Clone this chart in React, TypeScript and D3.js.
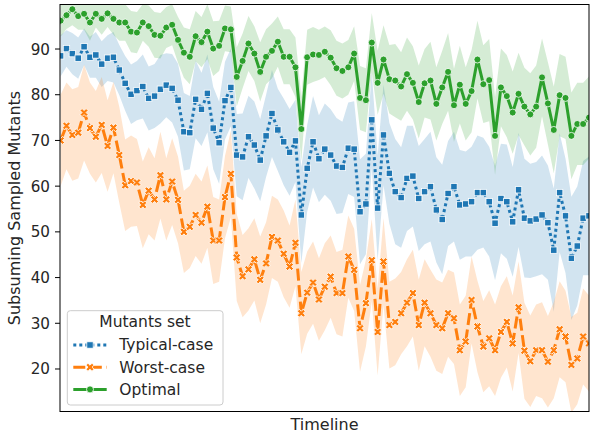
import * as d3 from 'd3';

const W = 590;
const H = 437;

// one x step per sample along the timeline
const steps = d3.range(91);

const typicalMean = [
  88.5, 90.1, 89.0, 88.0, 90.5, 88.2, 88.7, 86.7, 88.0, 88.2,
  85.4, 82.5, 80.1, 80.9, 81.8, 79.2, 79.7, 81.2, 82.1, 81.4,
  78.8, 71.9, 71.7, 79.0, 76.8, 80.3, 72.7, 69.5, 78.7, 81.6,
  66.8, 66.4, 70.8, 69.0, 65.7, 71.0, 75.9, 72.3, 69.7, 67.4,
  69.9, 53.7, 63.9, 69.7, 66.0, 68.1, 66.8, 64.4, 64.1, 68.3,
  68.1, 54.4, 56.1, 74.5, 55.2, 71.2, 62.8, 58.8, 57.5, 61.7,
  62.2, 57.3, 58.8, 59.9, 54.8, 52.7, 58.4, 59.9, 55.9, 56.1,
  56.6, 58.6, 58.6, 56.6, 51.9, 57.3, 56.6, 52.2, 59.2, 53.0,
  52.4, 52.8, 53.7, 52.0, 46.0, 58.6, 53.5, 44.2, 46.9, 53.0,
  53.5,
];
const typicalSpread = [
  4.5, 4, 4.5, 4.5, 4, 4.5, 5, 5, 5, 5.5, 5.5,
  6, 6.5, 6.5, 7, 7, 7, 7.5, 7, 7.5, 8,
  8.5, 8, 8.5, 8, 8.5, 9, 9, 8.5, 8.5,
  9, 9.5, 9, 9.5, 9, 9, 9.5, 9, 9.5, 9.5, 9, 10.5,
  9.5, 10, 9.5, 10, 10, 10.5, 10, 10, 10.5, 11.5, 11, 10.5, 11.5,
  11, 11, 11.5, 11, 11.5, 11, 11.5, 11.5, 12, 11.5, 12, 11.5, 12, 12, 11.5, 12, 12.5, 12,
  12, 12.5, 12, 12.5, 12, 12.5, 13, 12.5, 12.5, 13, 12.5, 13.5, 13, 12.5, 13.5, 13, 12.5, 13,
];

const worstMean = [
  70.0, 73.2, 71.2, 71.7, 76.1, 72.7, 70.8, 73.4, 68.8, 72.8,
  66.8, 60.2, 61.1, 60.8, 55.9, 59.0, 57.1, 62.4, 57.1, 61.0,
  57.0, 50.0, 51.1, 53.7, 52.0, 55.5, 48.1, 48.1, 57.6, 62.7,
  44.4, 40.3, 41.8, 44.0, 39.5, 43.1, 48.9, 48.1, 45.2, 42.4,
  47.6, 32.2, 36.7, 38.9, 35.2, 38.0, 40.2, 36.6, 36.6, 44.6,
  41.7, 28.9, 34.4, 43.8, 28.1, 43.5, 29.6, 30.3, 32.2, 34.5,
  36.6, 29.6, 34.5, 32.2, 29.6, 28.9, 32.2, 31.1, 24.1, 26.0,
  35.1, 29.3, 24.9, 26.7, 24.1, 28.1, 30.3, 25.6, 33.5, 24.0,
  21.7, 24.1, 24.1, 21.6, 24.1, 28.7, 27.1, 20.9, 22.3, 27.1,
  25.6,
];
const worstSpread = [
  10, 9.5, 10, 10, 10.5, 10, 10, 10.5, 10, 10, 10.5,
  10, 10, 9.5, 9.5, 9.5, 9, 9.5, 9, 9.5, 9.5,
  9, 9, 9, 9, 9, 9.5, 9, 9, 9.5,
  9.5, 9, 9, 9, 9.5, 9, 9, 9, 9.5, 9, 9.5, 9,
  9, 9, 9, 9.5, 9, 9, 9.5, 9, 9, 9.5, 9.5, 9, 9.5,
  9.5, 9.5, 9.5, 9, 9.5, 9.5, 10, 9.5, 9.5, 10, 10, 9.5, 10, 10, 10, 9.5, 10, 10,
  10.5, 10, 10, 10, 10.5, 10, 10.5, 10, 10, 10.5, 10, 10.5, 10.5, 10, 10.5, 10, 10.5, 10.5,
];

const optimalMean = [
  96.2, 97.4, 98.7, 97.2, 97.7, 95.8, 97.7, 96.6, 97.8, 96.6,
  95.8, 95.8, 93.8, 93.6, 95.8, 95.0, 93.1, 92.9, 94.7, 95.3,
  92.0, 89.2, 88.3, 92.8, 91.5, 93.8, 90.1, 90.7, 94.5, 94.3,
  83.9, 87.4, 91.2, 89.0, 85.0, 88.3, 89.6, 91.6, 88.3, 88.3,
  86.0, 72.5, 88.2, 88.8, 88.7, 89.4, 88.1, 85.8, 85.2, 86.0,
  89.0, 79.3, 78.8, 91.4, 82.6, 87.7, 83.4, 83.1, 81.8, 84.5,
  82.6, 78.4, 82.5, 83.1, 78.0, 81.6, 85.0, 77.7, 82.2, 78.0,
  80.8, 87.7, 82.3, 83.2, 71.0, 81.6, 79.7, 76.1, 80.2, 77.4,
  75.7, 77.4, 83.8, 78.1, 72.3, 79.9, 79.3, 71.0, 73.6, 73.6,
  75.0,
];
const optimalSpread = [
  3.5, 3, 3.5, 3, 3.5, 4, 3, 3.5, 3, 3.5, 4, 4,
  4.5, 4.5, 4, 4.5, 5, 5, 4.5, 4.5,
  5, 5.5, 6, 5.5, 5.5, 6, 6, 5.5, 5, 5,
  6.5, 6, 6, 6, 6.5, 6, 6, 5.5, 6, 6, 6.5, 7,
  6, 6, 5.5, 5.5, 6, 6, 6, 6, 6, 7, 7, 6.5, 7,
  7.5, 7.5, 8, 7.5, 8, 8, 8, 7.5, 8.5, 8, 8, 8.5, 8, 8.5, 8, 9, 8.5, 8.5,
  9, 8.5, 8.5, 9, 9, 9, 8.5, 9, 9, 8.5, 9, 9.5, 9, 9, 9.5, 9, 9, 9,
];

const yTicks = [20, 30, 40, 50, 60, 70, 80, 90];

type Marker = 'square' | 'x' | 'circle';

const series = [
  { name: 'Typical-case', color: '#1f77b4', mean: typicalMean, spread: typicalSpread, dash: '3 3', marker: 'square' as Marker },
  { name: 'Worst-case', color: '#ff7f0e', mean: worstMean, spread: worstSpread, dash: '12 4.5', marker: 'x' as Marker },
  { name: 'Optimal', color: '#2ca02c', mean: optimalMean, spread: optimalSpread, dash: undefined, marker: 'circle' as Marker },
];

const plot = { left: 60, right: 589, top: 4.5, bottom: 411.5 };

const x = d3.scaleLinear().domain([0, 90]).range([60.6, 589]);
const y = d3.scaleLinear().domain([10.7, 99.74]).range([plot.bottom, plot.top]);

const font = "'DejaVu Sans', sans-serif";
const crossPath = d3.symbol(d3.symbolCross, 40)() as string;

function MarkerShape({ kind, cx, cy, color }: { kind: Marker; cx: number; cy: number; color: string }) {
  if (kind === 'circle') {
    return <circle cx={cx} cy={cy} r={3.5} fill={color} stroke="#fff" strokeWidth={0.8} />;
  }
  if (kind === 'square') {
    return <rect x={cx - 3.2} y={cy - 3.2} width={6.4} height={6.4} fill={color} stroke="#fff" strokeWidth={0.8} />;
  }
  return (
    <path d={crossPath} transform={`translate(${cx},${cy}) rotate(45)`} fill={color} stroke="#fff" strokeWidth={0.8} />
  );
}

export default function App() {
  const line = d3.line<number>().x((_, i) => x(steps[i])).y((v) => y(v));

  return (
    <svg width={W} height={H} style={{ position: 'absolute', left: 0, top: 0, background: '#fff' }}>
      <defs>
        <clipPath id="plotClip">
          <rect x={plot.left} y={plot.top} width={plot.right - plot.left} height={plot.bottom - plot.top} />
        </clipPath>
      </defs>

      <g clipPath="url(#plotClip)">
        {series.map((s) => {
          const band = d3
            .area<number>()
            .x((i) => x(i))
            .y0((i) => y(s.mean[i] - s.spread[i]))
            .y1((i) => y(s.mean[i] + s.spread[i]));
          return <path key={s.name + '-band'} d={band(steps) as string} fill={s.color} fillOpacity={0.2} stroke="none" />;
        })}
        {series.map((s) => (
          <g key={s.name}>
            <path
              d={line(s.mean) as string}
              fill="none"
              stroke={s.color}
              strokeWidth={3}
              strokeDasharray={s.dash}
              strokeLinejoin="round"
            />
            {s.mean.map((v, i) => (
              <MarkerShape key={i} kind={s.marker} cx={x(steps[i])} cy={y(v)} color={s.color} />
            ))}
          </g>
        ))}
      </g>

      {/* frame */}
      <rect
        x={plot.left}
        y={plot.top}
        width={plot.right - plot.left}
        height={plot.bottom - plot.top}
        fill="none"
        stroke="#000"
        strokeWidth={1}
      />

      {/* y axis */}
      {yTicks.map((t) => (
        <g key={t} transform={`translate(0,${y(t)})`}>
          <line x1={plot.left - 5} x2={plot.left} stroke="#000" strokeWidth={1} />
          <text x={plot.left - 10} dy="0.36em" textAnchor="end" fontFamily={font} fontSize={15.2} fill="#262626">
            {t}
          </text>
        </g>
      ))}

      <text
        transform={`translate(20,${(plot.top + plot.bottom) / 2}) rotate(-90)`}
        textAnchor="middle"
        fontFamily={font}
        fontSize={16}
        fill="#262626"
      >
        Subsuming Sampled Mutants
      </text>
      <text x={(plot.left + plot.right) / 2} y={430} textAnchor="middle" fontFamily={font} fontSize={16} fill="#262626">
        Timeline
      </text>

      {/* legend */}
      <g>
        <rect x={67.3} y={310.7} width={155.7} height={94.3} rx={3} fill="#fff" fillOpacity={0.8} stroke="#cccccc" strokeWidth={1} />
        <text x={145} y={326.7} textAnchor="middle" fontFamily={font} fontSize={15.5} fill="#262626">
          Mutants set
        </text>
        {series.map((s, i) => {
          const cy = 345 + i * 22.2;
          return (
            <g key={s.name + '-legend'}>
              <line x1={73.3} x2={106.7} y1={cy} y2={cy} stroke={s.color} strokeWidth={3} strokeDasharray={s.dash} />
              <MarkerShape kind={s.marker} cx={90} cy={cy} color={s.color} />
              <text x={119.3} y={cy + 5.3} fontFamily={font} fontSize={15.5} fill="#262626">
                {s.name}
              </text>
            </g>
          );
        })}
      </g>
    </svg>
  );
}
